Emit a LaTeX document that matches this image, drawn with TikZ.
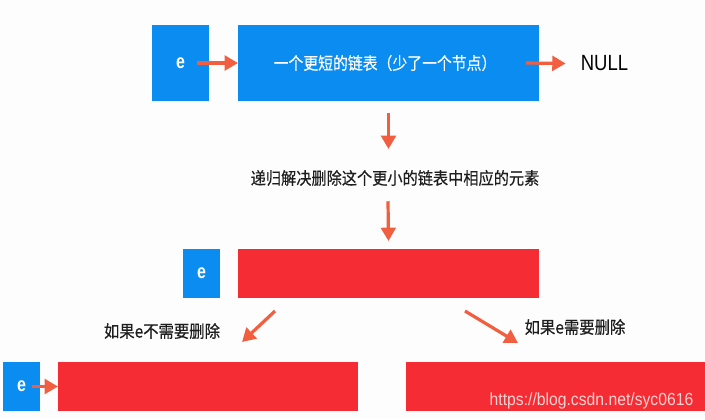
\documentclass[tikz,border=0pt]{standalone}
\usepackage{fontspec}
\setmainfont{Liberation Sans}
\newfontfamily\cjk[FakeBold=0.4]{Noto Sans CJK SC}
\usetikzlibrary{arrows.meta,calc}
\definecolor{nodeblue}{RGB}{10,140,240}
\definecolor{nodered}{RGB}{245,44,52}
\definecolor{arr}{RGB}{242,94,64}
\definecolor{wm}{RGB}{250,210,210}
\definecolor{bg}{RGB}{253,253,253}
\definecolor{txt}{RGB}{30,30,30}
\newcommand\sqz[2]{\scalebox{#1}[1]{#2}}
\tikzset{
  bluebox/.style={fill=nodeblue,draw=none,inner sep=0pt,outer sep=0pt},
  redbox/.style={fill=nodered,draw=none,inner sep=0pt,outer sep=0pt},
  elabel/.style={text=white,font=\fontsize{15}{15}\selectfont\bfseries},
  cjklabel/.style={text=txt,inner sep=0pt,font=\cjk\fontsize{12.8}{14}\selectfont},
  arrowline/.style={draw=arr,line width=2.4pt,-{Triangle[length=10pt,width=11pt]}},
}
\begin{document}
\begin{tikzpicture}[x=0.75pt,y=-0.75pt]
\useasboundingbox[fill=bg] (0,0) rectangle (705,419);
% top row
\node[bluebox,minimum width=57*0.75pt,minimum height=76*0.75pt] (e1) at (180.5,63) {};
\node[elabel] at (e1.center) {\sqz{0.8}{e}};
\node[bluebox,minimum width=301*0.75pt,minimum height=76*0.75pt] (b1) at (388.5,63) {};
\node[cjklabel,text=white] (t1) at (385,63) {\sqz{0.87}{一个更短的链表（少了一个节点）}};
\node[inner sep=0pt,text=black,font=\fontsize{16.5}{16.5}\selectfont] (null) at (604.5,63.5) {\sqz{0.84}{NULL}};
\draw[arrowline] ($(e1.center)+(16,0)$) -- (b1.west);
\draw[arrowline] ($(b1.east)+(-13,0)$) -- ($(null.west)+(-15,0)$);
% middle text
\node[cjklabel] (mid) at (395,178) {\sqz{0.89}{递归解决删除这个更小的链表中相应的元素}};
\draw[arrowline] ($(b1.south)+(0,12)$) -- ($(b1.south)+(0,48)$);
% middle row
\node[bluebox,minimum width=37*0.75pt,minimum height=49*0.75pt] (e2) at (201.5,273.5) {};
\node[elabel] at (e2.center) {\sqz{0.8}{e}};
\node[redbox,minimum width=301*0.75pt,minimum height=49*0.75pt] (r2) at (388.5,273.5) {};
\draw[arrowline] ($(mid.south)+(-7,15)$) -- ($(r2.north)+(0,-8)$);
% branch labels
\node[cjklabel] (l1) at (162,331) {\sqz{0.9}{如果e不需要删除}};
\node[cjklabel] (l2) at (575,327) {\sqz{0.9}{如果e需要删除}};
% bottom row
\node[bluebox,minimum width=37*0.75pt,minimum height=49*0.75pt] (e3) at (21.5,386.5) {};
\node[elabel] at (e3.center) {\sqz{0.8}{e}};
\node[redbox,minimum width=300*0.75pt,minimum height=49*0.75pt] (r3) at (208,386.5) {};
\node[redbox,minimum width=300*0.75pt,minimum height=49*0.75pt] (r4) at (556,386.5) {};
\draw[arrowline] ($(e3.center)+(10,0)$) -- (r3.west);
\draw[arrowline] ($(r2.south west)+(37,13)$) -- ($(r3.north east)+(-116,-20)$);
\draw[arrowline] ($(r2.south west)+(227,13)$) -- ($(r4.north west)+(112,-19)$);
\node[anchor=base,inner sep=0pt,text=wm,font=\fontsize{13.1}{13.1}\selectfont] (url) at (591.5,405) {\sqz{0.9}{https://blog.csdn.net/syc0616}};
\end{tikzpicture}
\end{document}
